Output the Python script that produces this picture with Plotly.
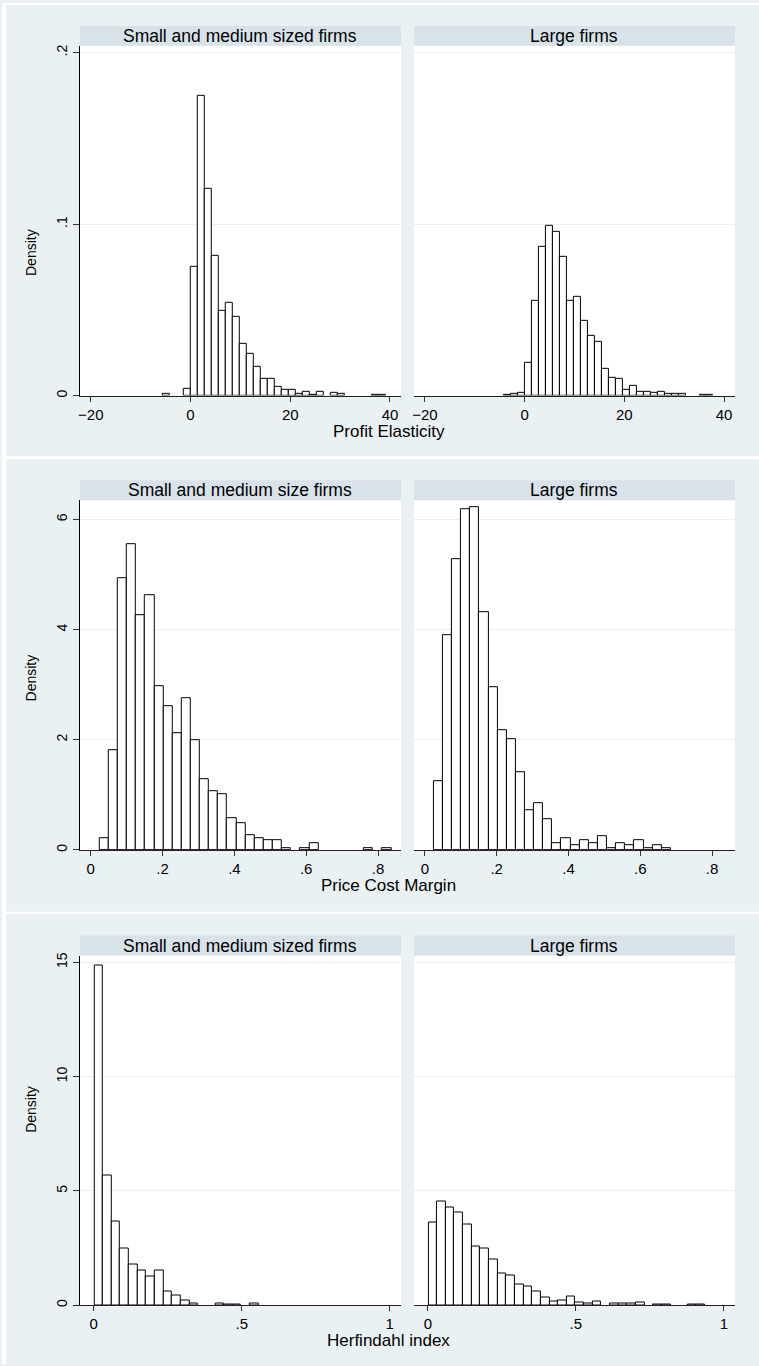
import numpy as np
import plotly.graph_objects as go

# ---------------- data (histogram densities, 32 common bins per variable) ----------------
panel_titles_top = ["Small and medium sized firms", "Large firms"]
panel_titles_mid = ["Small and medium size firms", "Large firms"]
panel_titles_bot = ["Small and medium sized firms", "Large firms"]
x_titles = ["Profit Elasticity", "Price Cost Margin", "Herfindahl index"]

pe_start, pe_width = -5.55, 1.4
pe_sme = [0.0008, 0, 0, 0.0041, 0.0751, 0.175, 0.1204, 0.0816, 0.0493, 0.054, 0.0462,
          0.0301, 0.0245, 0.0169, 0.0097, 0.0097, 0.0049, 0.0033, 0.0033, 0.001, 0.0023,
          0.0004, 0.0023, 0, 0.0016, 0.0008, 0, 0, 0, 0, 0.0006, 0.0006]
pe_large = [0, 0.0006, 0.0008, 0.0016, 0.0188, 0.0553, 0.0866, 0.099, 0.0953, 0.0812, 0.0553,
            0.0577, 0.0437, 0.0346, 0.0313, 0.0155, 0.0103, 0.0095, 0.0033, 0.0056, 0.0023,
            0.0023, 0.0016, 0.0023, 0.0008, 0.0008, 0.0008, 0, 0, 0.0006, 0.0006, 0]

pcm_start, pcm_width = 0.0245, 0.0254
pcm_sme = [0.21, 1.815, 4.93, 5.55, 4.265, 4.62, 2.97, 2.61, 2.12, 2.75, 1.99, 1.28, 1.065,
           1.016, 0.569, 0.478, 0.26, 0.21, 0.17, 0.17, 0.036, 0, 0.036, 0.115, 0, 0, 0, 0,
           0, 0.036, 0, 0.036]
pcm_large = [1.24, 3.896, 5.28, 6.18, 6.22, 4.325, 2.96, 2.18, 2.01, 1.41, 0.726, 0.853, 0.557,
             0.121, 0.21, 0.079, 0.17, 0.121, 0.248, 0.036, 0.121, 0.079, 0.17, 0.036, 0.079,
             0.036, 0, 0, 0, 0, 0, 0]

hhi_start, hhi_width = 0.002, 0.0292
hhi_sme = [14.87, 5.66, 3.655, 2.46, 1.78, 1.5, 1.27, 1.5, 0.61, 0.41, 0.19, 0.073, 0, 0,
           0.073, 0.044, 0.044, 0, 0.087, 0, 0, 0, 0, 0, 0, 0, 0, 0, 0, 0, 0, 0]
hhi_large = [3.61, 4.53, 4.27, 4.05, 3.52, 2.59, 2.48, 2.01, 1.40, 1.30, 0.92, 0.815, 0.58,
             0.35, 0.175, 0.22, 0.364, 0.13, 0.058, 0.16, 0, 0.058, 0.058, 0.058, 0.1, 0,
             0.044, 0.044, 0, 0, 0.044, 0.044]

pe_xticks = [-20, 0, 20, 40]
pe_xtext = ["\u221220", "0", "20", "40"]
pe_yticks = [0, 0.1, 0.2]
pe_ytext = ["0", ".1", ".2"]
pcm_xticks = [0, 0.2, 0.4, 0.6, 0.8]
pcm_xtext = ["0", ".2", ".4", ".6", ".8"]
pcm_yticks = [0, 2, 4, 6]
pcm_ytext = ["0", "2", "4", "6"]
hhi_xticks = [0, 0.5, 1]
hhi_xtext = ["0", ".5", "1"]
hhi_yticks = [0, 5, 10, 15]
hhi_ytext = ["0", "5", "10", "15"]

# ---------------- style / layout ----------------
W, H = 759, 1366
BG = "#EAF1F3"
STRIP = "#D8E3E9"
GRID = "#E6EFF2"
FONT = "Liberation Sans, Arial, sans-serif"


def px(x):
    return x / W


def py(y):
    return 1 - y / H


LEFT = (78, 400)
RIGHT = (413, 735)
ROWS = [  # strip top, plot top, plot bottom, x title y, density y
    (23, 43, 394, 430, 250),
    (479, 499, 850, 886, 677),
    (936, 956, 1307, 1342, 1110),
]

specs = [
    (pe_start, pe_width, pe_sme, pe_large, [-22.2, 42.2], [0, 0.204], pe_xticks, pe_xtext,
     pe_yticks, pe_ytext, panel_titles_top),
    (pcm_start, pcm_width, pcm_sme, pcm_large, [-0.0306, 0.8639], [0, 6.35], pcm_xticks,
     pcm_xtext, pcm_yticks, pcm_ytext, panel_titles_mid),
    (hhi_start, hhi_width, hhi_sme, hhi_large, [-0.0472, 1.038], [0, 15.3], hhi_xticks,
     hhi_xtext, hhi_yticks, hhi_ytext, panel_titles_bot),
]

fig = go.Figure()
layout = dict(
    width=W, height=H, autosize=False,
    margin=dict(l=0, r=0, t=0, b=0),
    paper_bgcolor=BG, plot_bgcolor="white",
    showlegend=False, bargap=0,
    font=dict(family=FONT, color="black", size=14),
)
shapes = []
annotations = []

idx = 0
for r, (start, width, sme, large, xr, yr, xt, xtt, yt, ytt, titles) in enumerate(specs):
    s_top, p_top, p_bot, xt_y, dens_y = ROWS[r]
    centers = start + width * (np.arange(len(sme)) + 0.5)
    for c, (vals, cols) in enumerate([(sme, LEFT), (large, RIGHT)]):
        idx += 1
        sfx = "" if idx == 1 else str(idx)
        shown = [v if v > 0 else None for v in vals]  # empty bins draw nothing
        fig.add_trace(go.Bar(
            x=centers, y=shown, width=width,
            marker=dict(color="white", line=dict(color="black", width=1)),
            xaxis="x" + sfx, yaxis="y" + sfx, hoverinfo="skip",
        ))
        layout["xaxis" + sfx] = dict(
            domain=[px(cols[0]), px(cols[1])], anchor="y" + sfx, range=xr,
            tickmode="array", tickvals=xt, ticktext=xtt, ticks="outside", ticklen=5,
            tickcolor="#333333", tickwidth=1, showline=True, linecolor="#222222",
            linewidth=1, showgrid=False, zeroline=False,
            tickfont=dict(family=FONT, size=15, color="black"), fixedrange=True,
        )
        ydict = dict(
            domain=[py(p_bot), py(p_top)], anchor="x" + sfx, range=yr,
            tickmode="array", tickvals=yt, ticktext=ytt,
            showgrid=True, gridcolor=GRID, gridwidth=1, zeroline=False, fixedrange=True,
        )
        if c == 0:
            ydict.update(ticks="outside", ticklen=6, tickcolor="#333333", tickwidth=1,
                         showline=True, linecolor="black", linewidth=1, tickangle=-90,
                         showticklabels=True,
                         tickfont=dict(family=FONT, size=14, color="black"))
        else:
            ydict.update(ticks="", showline=False, showticklabels=False)
        layout["yaxis" + sfx] = ydict

        # strip header
        shapes.append(dict(type="rect", xref="paper", yref="paper",
                           x0=px(cols[0]), x1=px(cols[1]), y0=py(p_top), y1=py(s_top),
                           fillcolor=STRIP, line=dict(width=0), layer="below"))
        annotations.append(dict(text=titles[c], xref="paper", yref="paper",
                                x=px((cols[0] + cols[1]) / 2), y=py((s_top + p_top) / 2),
                                xanchor="center", yanchor="middle", showarrow=False,
                                font=dict(family=FONT, size=17.5, color="black")))
    # x title
    annotations.append(dict(text=x_titles[r], xref="paper", yref="paper",
                            x=px(388), y=py(xt_y), xanchor="center", yanchor="middle",
                            showarrow=False, font=dict(family=FONT, size=17, color="black")))
    # y title
    annotations.append(dict(text="Density", xref="paper", yref="paper",
                            x=px(29), y=py(dens_y), xanchor="center", yanchor="middle",
                            textangle=-90, showarrow=False,
                            font=dict(family=FONT, size=14, color="black")))

# white separators / borders between the three stacked graphs
for (y0, y1) in [(0, 2), (455, 458), (912, 914)]:
    shapes.append(dict(type="rect", xref="paper", yref="paper", x0=0, x1=1,
                       y0=py(y1), y1=py(y0), fillcolor="white", line=dict(width=0),
                       layer="below"))
shapes.append(dict(type="rect", xref="paper", yref="paper", x0=0, x1=px(4), y0=0, y1=1,
                   fillcolor="white", line=dict(width=0), layer="below"))

layout["shapes"] = shapes
layout["annotations"] = annotations
fig.update_layout(**layout)
fig.write_html("out.html")
